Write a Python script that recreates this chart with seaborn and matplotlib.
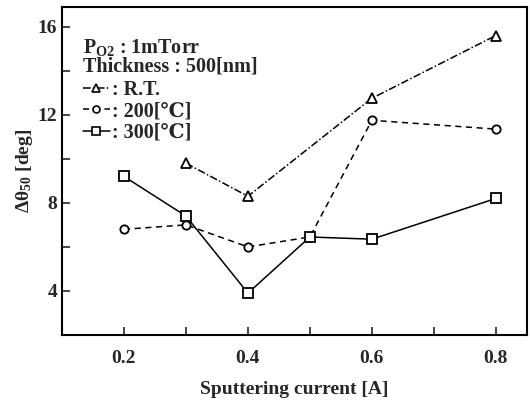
import matplotlib
matplotlib.use("Agg")
import matplotlib.pyplot as plt
import seaborn as sns
import pandas as pd
from matplotlib.lines import Line2D

sns.set_theme(style="ticks")
plt.rcParams['font.family'] = ['Liberation Serif', 'DejaVu Serif']
plt.rcParams['mathtext.fontset'] = 'custom'
plt.rcParams['mathtext.rm'] = 'Liberation Serif:bold'
plt.rcParams['mathtext.it'] = 'Liberation Serif:bold'
plt.rcParams['mathtext.bf'] = 'Liberation Serif:bold'

x_rt = [0.3, 0.4, 0.6, 0.8]
y_rt = [9.8, 8.3, 12.75, 15.6]
x_200 = [0.2, 0.3, 0.4, 0.5, 0.6, 0.8]
y_200 = [6.8, 7.0, 6.0, 6.45, 11.75, 11.35]
x_300 = [0.2, 0.3, 0.4, 0.5, 0.6, 0.8]
y_300 = [9.2, 7.4, 3.9, 6.45, 6.35, 8.2]

fig = plt.figure(figsize=(5.3, 4.07), dpi=100)
ax = fig.add_axes([0.117, 0.177, 0.877, 0.806])

styles = [
    (x_rt, y_rt, '^', (0, (5, 1.5, 1, 1.5)), ': R.T.'),
    (x_200, y_200, 'o', (0, (4, 3)), ': 200[\u2103]'),
    (x_300, y_300, 's', '-', ': 300[\u2103]'),
]
handles = []
for xs, ys, m, ls, lab in styles:
    df = pd.DataFrame({'x': xs, 'y': ys})
    ms = 7 if m != 'o' else 6
    sns.lineplot(data=df, x='x', y='y', ax=ax, color='black', linewidth=1.1,
                 linestyle=ls, marker=m, markersize=ms,
                 markerfacecolor='white', markeredgecolor='black',
                 markeredgewidth=1.3, zorder=3)
    handles.append(Line2D([], [], color='black', linestyle=ls, linewidth=1.1,
                          marker=m, markersize=ms - 1,
                          markerfacecolor='white', markeredgecolor='black',
                          markeredgewidth=1.2, label=lab))

ax.set_xlim(0.1, 0.85)
ax.set_ylim(2, 16.9)
ax.set_xticks([0.2, 0.4, 0.6, 0.8])
ax.set_xticklabels(['0.2', '0.4', '0.6', '0.8'])
ax.set_xticks([0.3, 0.5, 0.7], minor=True)
ax.set_yticks([4, 8, 12, 16])
ax.set_yticks([6, 10, 14], minor=True)
ax.tick_params(which='both', direction='in', length=6, width=1.2, labelsize=14)
ax.tick_params(axis='x', pad=11)
for lbl in ax.get_xticklabels() + ax.get_yticklabels():
    lbl.set_fontweight('bold')
for sp in ax.spines.values():
    sp.set_linewidth(1.5)
    sp.set_color('black')

ax.set_xlabel('Sputtering current [A]', fontsize=14, fontweight='bold', labelpad=10)
ax.set_ylabel('\u0394\u03b8$_{50}$ [deg]', fontsize=14, fontweight='bold', labelpad=2)

ax.text(0.046, 0.875, 'P$_{\\mathrm{O2}}$ : 1mTorr', transform=ax.transAxes,
        fontsize=14.5, fontweight='bold', va='center')
ax.text(0.046, 0.817, 'Thickness : 500[nm]', transform=ax.transAxes,
        fontsize=14.5, fontweight='bold', va='center')
leg = ax.legend(handles=handles, loc='upper left', bbox_to_anchor=(0.046, 0.778),
                frameon=False, fontsize=14.5, handlelength=1.3, handletextpad=0.1,
                labelspacing=0.08, borderpad=0, borderaxespad=0)
for t in leg.get_texts():
    t.set_fontweight('bold')

fig.savefig('out.png', dpi=100)
